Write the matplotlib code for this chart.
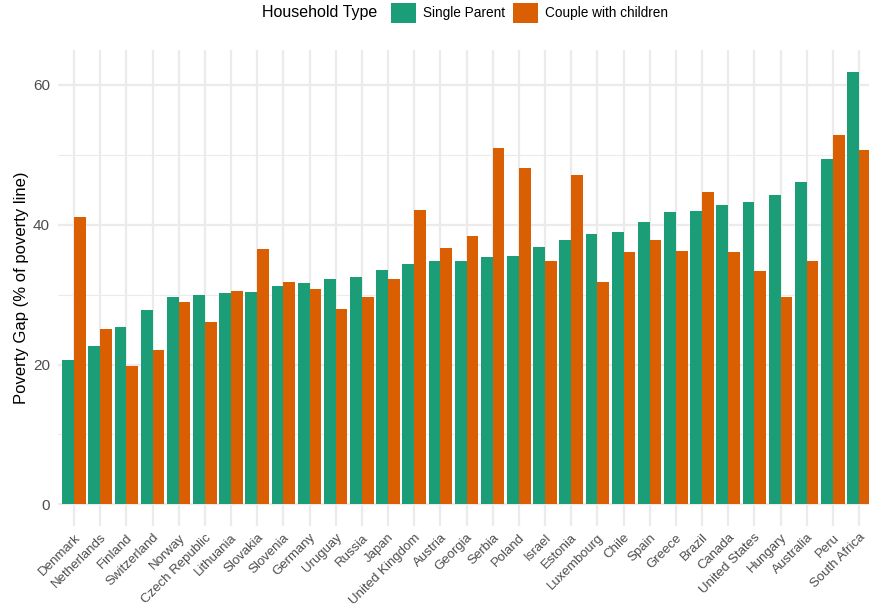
import matplotlib.pyplot as plt
import numpy as np
from matplotlib.patches import Patch

plt.rcParams['font.family'] = ['Liberation Sans', 'DejaVu Sans']

# --- Data ---
countries = ["Denmark", "Netherlands", "Finland", "Switzerland", "Norway", "Czech Republic",
             "Lithuania", "Slovakia", "Slovenia", "Germany", "Uruguay", "Russia", "Japan",
             "United Kingdom", "Austria", "Georgia", "Serbia", "Poland", "Israel", "Estonia",
             "Luxembourg", "Chile", "Spain", "Greece", "Brazil", "Canada", "United States",
             "Hungary", "Australia", "Peru", "South Africa"]
single_parent = [20.6, 22.6, 25.4, 27.8, 29.7, 29.9, 30.2, 30.4, 31.2, 31.7, 32.2, 32.5, 33.5,
                 34.4, 34.8, 34.8, 35.4, 35.5, 36.8, 37.8, 38.7, 39.0, 40.4, 41.8, 42.0, 42.8,
                 43.3, 44.3, 46.1, 49.4, 61.9]
couple_children = [41.1, 25.1, 19.8, 22.1, 28.9, 26.1, 30.5, 36.5, 31.8, 30.8, 27.9, 29.7, 32.2,
                   42.1, 36.7, 38.4, 51.0, 48.1, 34.8, 47.1, 31.8, 36.1, 37.8, 36.2, 44.7, 36.1,
                   33.4, 29.7, 34.8, 52.9, 50.7]
y_ticks = [0, 20, 40, 60]

green = "#1b9e77"
orange = "#d95f02"
grid_col = "#ebebeb"
text_col = "#4d4d4d"

W, H = 869, 612
fig = plt.figure(figsize=(W / 100, H / 100), dpi=100)

# panel geometry in pixels (ggplot-like expansion on both axes)
n = len(countries)
first_tick, last_tick = 74, 859
px_per_cat = (last_tick - first_tick) / (n - 1)
x_lo, x_hi = -0.6, n - 1 + 0.6
left_px = first_tick - 0.6 * px_per_cat
width_px = (x_hi - x_lo) * px_per_cat
top_px, bottom_px = 50, 526
ax = fig.add_axes([left_px / W, 1 - bottom_px / H, width_px / W, (bottom_px - top_px) / H])

x = np.arange(n)
bw = 0.45
ax.bar(x - bw / 2, single_parent, width=bw, color=green, zorder=3)
ax.bar(x + bw / 2, couple_children, width=bw, color=orange, zorder=3)

ymax = max(max(single_parent), max(couple_children))
pad = 0.05 * ymax
ax.set_xlim(x_lo, x_hi)
ax.set_ylim(-pad, ymax + pad)

ax.set_xticks(x)
ax.set_xticklabels(countries, rotation=45, ha="right", va="top", rotation_mode="anchor",
                   fontsize=9.5, color=text_col)
ax.set_yticks(y_ticks)
ax.set_yticklabels([str(v) for v in y_ticks], fontsize=11, color=text_col)
ax.set_yticks([10, 30, 50], minor=True)
ax.tick_params(axis="both", which="both", length=0)
ax.tick_params(axis="x", pad=4)
ax.tick_params(axis="y", pad=6)

ax.grid(True, which="major", color=grid_col, linewidth=1.6, zorder=0)
ax.grid(True, which="minor", axis="y", color=grid_col, linewidth=0.8, zorder=0)
for s in ax.spines.values():
    s.set_visible(False)

ax.set_ylabel("Poverty Gap (% of poverty line)", fontsize=12, color="black", labelpad=3)

# --- Legend on top, title to the left ---
fig.text(262 / W, 1 - 13 / H, "Household Type", fontsize=11.5, va="center", ha="left")
handles = [Patch(facecolor=green, label="Single Parent"),
           Patch(facecolor=orange, label="Couple with children")]
fig.legend(handles=handles, loc="center left", bbox_to_anchor=(391 / W, 1 - 13 / H), ncol=2,
           frameon=False, fontsize=9.8, handlelength=1.8, handleheight=1.8,
           handletextpad=0.55, columnspacing=0.6, borderpad=0, borderaxespad=0)

fig.savefig("out.png", dpi=100)
